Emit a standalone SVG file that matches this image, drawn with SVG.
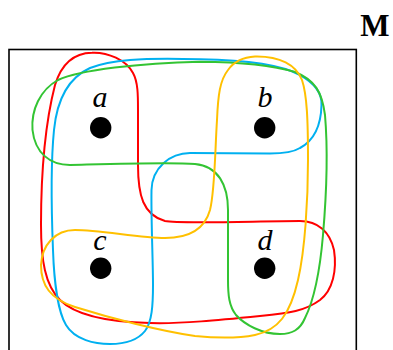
<svg xmlns="http://www.w3.org/2000/svg" width="393" height="350" viewBox="0 0 393 350">
<style>
.curve{fill:none;stroke-width:2;stroke-linejoin:round}
.lbl{font-family:"Liberation Serif",serif;font-style:italic;font-size:30px;text-anchor:middle;fill:#000}
.dot{fill:#000}
</style>
<rect width="393" height="350" fill="#fff"/>
<rect x="9" y="49.5" width="347.3" height="320" fill="none" stroke="#000" stroke-width="1.6"/>
<text x="375" y="36" font-family="Liberation Serif,serif" font-weight="bold" font-size="31" text-anchor="middle">M</text>
<g id="connectors">
<path id="red" class="curve" stroke="#ff0000" d="M 92,52.7 C 108,52 126,60 133,73 C 138,82 138,95 138,110 L 138,165 C 138,195 143,215 165,221 C 180,224 260,221 300,221 C 318,221 330,232 334,250 C 337,270 333,290 320,300 C 305,311 290,313 260,316 C 220,320 180,324 150,323 C 105,322 75,315 60,300 C 45,285 41,260 41,225 C 41,170 46,120 55,85 C 62,62 75,53 92,52.7 Z"/>
<path id="blue" class="curve" stroke="#00b0f0" d="M 200,59.3 C 240,60 280,64 300,75 C 318,85 322,95 321.5,105 C 321,125 315,140 300,148 C 292,153 280,153.5 270,153.5 L 190,153 C 170,153 152,168 151.5,190 C 151,220 153,260 153,285 C 153,305 152,322 145,331 C 137,341 122,344 110,344 C 95,344 75,340 66,325 C 58,312 54,280 53,250 C 51,200 51,160 54,130 C 57,100 68,78 90,68 C 110,60 140,57.5 200,59.3 Z"/>
<path id="green" class="curve" stroke="#33c433" d="M 200,61.7 C 240,62 275,66 295,72 C 315,80 322,92 325,115 C 328,150 326,200 323,235 C 320,270 314,300 305,318 C 300,330 292,334 280,334 C 262,334 245,325 236,315 C 229,306 228,295 228,280 L 228,210 C 228,185 218,166 195,164 C 170,162 110,164 70,165 C 50,165 35,153 32.5,130 C 31,110 40,90 58,80 C 80,70 140,63 200,61.7 Z"/>
<path id="yellow" class="curve" stroke="#ffc000" d="M 255,56.5 C 280,56 296,65 302,80 C 307,95 308,120 308,160 C 308,200 305,250 298,280 C 290,315 278,330 255,335 C 235,339 215,338 195,336 C 160,331 110,318 75,307 C 50,299 41,285 41,265 C 42,245 55,230 75,230 C 100,230 140,238 165,238 C 190,238 205,228 210,210 C 215,190 215,150 217,120 C 218,95 220,80 228,70 C 235,60 245,57 255,56.5 Z"/>
</g>
<g id="node-a"><circle class="dot" cx="100.7" cy="127.7" r="10.7"/><text class="lbl" x="100" y="107">a</text></g>
<g id="node-b"><circle class="dot" cx="264.7" cy="127.7" r="10.7"/><text class="lbl" x="265" y="107">b</text></g>
<g id="node-c"><circle class="dot" cx="100.7" cy="268.3" r="10.7"/><text class="lbl" x="100" y="250">c</text></g>
<g id="node-d"><circle class="dot" cx="264.7" cy="268.3" r="10.7"/><text class="lbl" x="265" y="250">d</text></g>
</svg>
